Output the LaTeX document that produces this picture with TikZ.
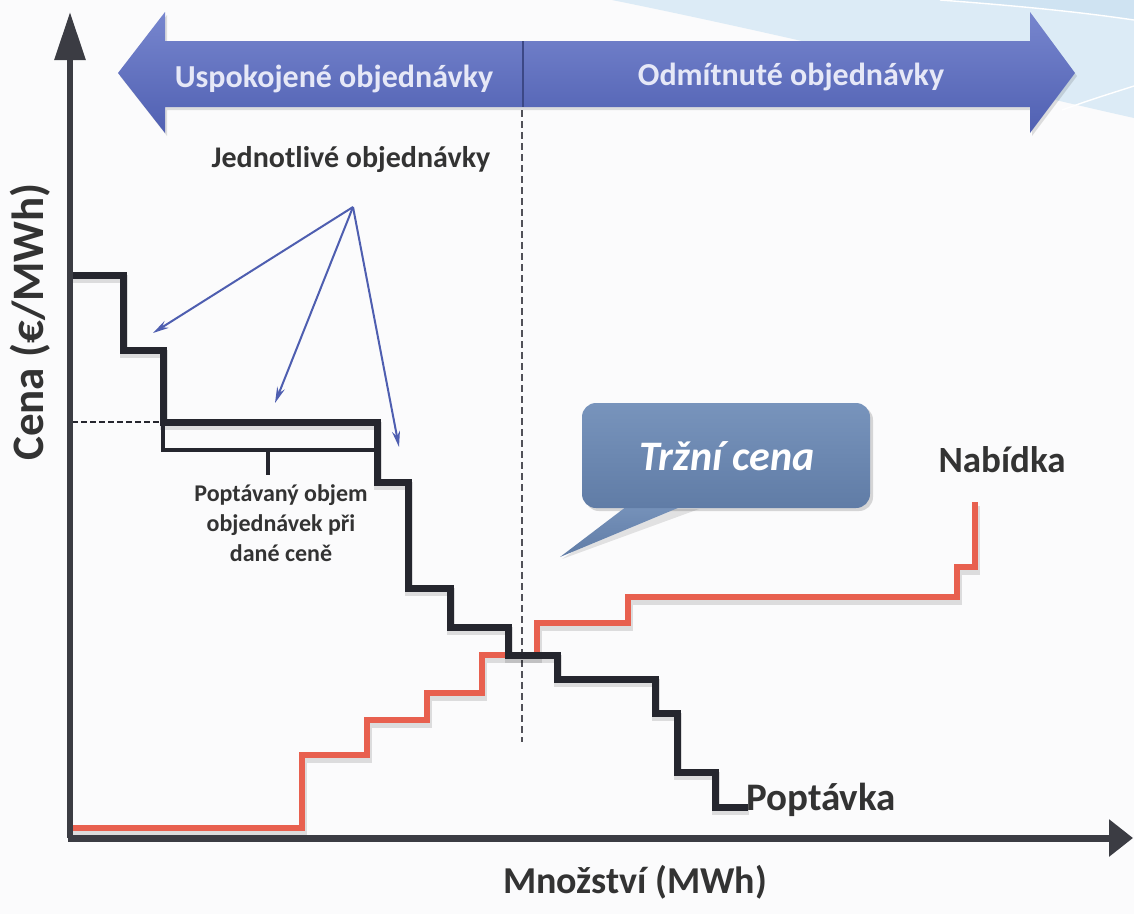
\documentclass[tikz,border=0pt]{standalone}
\usepackage{fontspec}
\setmainfont{Carlito}
\usetikzlibrary{arrows.meta,calc}

\definecolor{bg}{HTML}{FBFBFC}
\definecolor{swoosh}{HTML}{DCEBF6}
\definecolor{swooshdark}{HTML}{CFE3F2}
\definecolor{bandtop}{HTML}{7786CE}
\definecolor{bandbot}{HTML}{5060B2}
\definecolor{bandtext}{HTML}{E6E8F7}
\definecolor{demand}{HTML}{25262E}
\definecolor{supply}{HTML}{E8604F}
\definecolor{pointer}{HTML}{4E5EB0}
\definecolor{calltop}{HTML}{7894BC}
\definecolor{callbot}{HTML}{607CA6}
\definecolor{ink}{HTML}{333333}

\tikzset{
  axisline/.style={line width=6, draw=demand!90!white},
  demandline/.style={line width=7, draw=demand, line join=miter},
  supplyline/.style={line width=6, draw=supply, line join=miter},
  shadowline/.style={line width=8, draw=black, opacity=0.12, line join=miter},
  pointerarrow/.style={draw=pointer, line width=2, -{Stealth[length=16pt,width=8pt]}},
  bandlabel/.style={text=bandtext, font=\bfseries\fontsize{32}{36}\selectfont, inner sep=0},
  plainlabel/.style={text=ink, font=\bfseries\fontsize{36}{40}\selectfont, inner sep=0},
  smalllabel/.style={text=ink, font=\bfseries\fontsize{24}{30}\selectfont, inner sep=0, align=center},
}

\begin{document}
\begin{tikzpicture}[x=1pt,y=-1pt]
% page background
\fill[bg] (0,0) rectangle (1134,914);
\useasboundingbox (0,0) rectangle (1134,914);

% theme swoosh in the upper right corner
\fill[swoosh] (612,0) .. controls (800,38) and (1000,88) .. (1134,118) -- (1134,0) -- cycle;
\fill[swooshdark] (940,0) .. controls (1020,6) and (1080,12) .. (1134,20) -- (1134,0) -- cycle;
\draw[white, line width=1.4] (940,0) .. controls (1020,6) and (1080,12) .. (1134,20);
\draw[white, line width=1.4] (1062,110) .. controls (1090,100) .. (1134,86);

% double arrow band with the two order groups
\fill[black, opacity=0.12] ($(118,73)+(2,3)$) -- ++(47,-61) -- ++(0,29) -- ++(865,0) -- ++(0,-29)
  -- ++(45,61) -- ++(-45,60) -- ++(0,-26) -- ++(-865,0) -- ++(0,26) -- cycle;
\shade[top color=bandtop, bottom color=bandbot]
  (118,73) -- (165,12) -- (165,41) -- (1030,41) -- (1030,12) -- (1075,73)
  -- (1030,133) -- (1030,107) -- (165,107) -- (165,133) -- cycle;
\draw[bandbot!75!black, line width=1.2] (523,41) -- (523,107);
\node[bandlabel] (satisfied) at (334,79) {Uspokojené objednávky};
\node[bandlabel] (rejected) at (791,77) {Odmítnuté objednávky};

% market clearing quantity
\draw[demand!80!white, line width=1.5, dash pattern=on 7pt off 4pt] (522,110) -- (522,742);

% price level of the highlighted order block
\draw[demand, line width=2.5, dash pattern=on 6pt off 3pt] (72,422) -- (163,422);

% supply curve
\draw[shadowline] ($(72,828)+(1,4)$) -- ++(230,0) -- ++(0,-73) -- ++(65,0) -- ++(0,-35)
  -- ++(60,0) -- ++(0,-27) -- ++(55,0) -- ++(0,-38) -- ++(55,0) -- ++(0,-32)
  -- ++(91,0) -- ++(0,-26) -- ++(329,0) -- ++(0,-30) -- ++(18,0) -- ++(0,-65);
\draw[supplyline] (72,828) -- (302,828) -- (302,755) -- (367,755) -- (367,720)
  -- (427,720) -- (427,693) -- (482,693) -- (482,655) -- (537,655) -- (537,623)
  -- (628,623) -- (628,597) -- (957,597) -- (957,567) -- (975,567) -- (975,502);

% demand curve
\draw[shadowline] ($(72,275)+(1,4)$) -- ++(51,0) -- ++(0,75) -- ++(40,0) -- ++(0,72)
  -- ++(214,0) -- ++(0,60) -- ++(31,0) -- ++(0,106) -- ++(42,0) -- ++(0,39)
  -- ++(58,0) -- ++(0,28) -- ++(49,0) -- ++(0,24) -- ++(98,0) -- ++(0,34)
  -- ++(22,0) -- ++(0,59) -- ++(38,0) -- ++(0,35) -- ++(33,0);
\draw[demandline] (72,275) -- (123,275) -- (123,350) -- (163,350) -- (163,422)
  -- (377,422) -- (377,482) -- (408,482) -- (408,588) -- (450,588) -- (450,627)
  -- (508,627) -- (508,655) -- (557,655) -- (557,679) -- (655,679) -- (655,713)
  -- (677,713) -- (677,772) -- (715,772) -- (715,807) -- (748,807);

% bracket marking the ordered volume at that price
\draw[demand, line width=4] (163,422) -- (163,450) -- (377,450);
\draw[demand, line width=4] (268,450) -- (268,475);

% axes
\draw[axisline, -{Triangle[length=48pt,width=30pt]}] (70,838) -- (70,12);
\draw[axisline, line width=7, -{Triangle[length=24pt,width=36pt]}] (68,838) -- (1133,838);

% callout with the market price
\fill[black, opacity=0.15, rounded corners=14] (585,406) rectangle (873,511);
\fill[black, opacity=0.10] (637,509) -- (562,559) -- (699,509) -- cycle;
\shade[top color=calltop, bottom color=callbot] (635,500) -- (560,557) -- (697,500) -- cycle;
\shade[top color=calltop, bottom color=callbot, rounded corners=14] (582,403) rectangle (870,508);
\node[text=white, font=\bfseries\itshape\fontsize{42}{46}\selectfont, inner sep=0] (price) at (727,456) {Tržní cena};

% labels
\node[plainlabel, font=\bfseries\fontsize{30}{36}\selectfont] (orders) at (351,160) {Jednotlivé objednávky};
\coordinate (apex) at (353,207);
\coordinate (tipA) at (153,333);
\coordinate (tipB) at (275,403);
\coordinate (tipC) at (399,447);
\draw[pointerarrow] (apex) -- (tipA);
\draw[pointerarrow] (apex) -- (tipB);
\draw[pointerarrow] (apex) -- (tipC);

\node[smalllabel] (volume) at (281,523) {Poptávaný objem\\objednávek při\\dané ceně};
\node[plainlabel, font=\bfseries\fontsize{37}{40}\selectfont] (supplylabel) at (1002,460) {Nabídka};
\node[plainlabel, font=\bfseries\fontsize{39}{44}\selectfont] (demandlabel) at (821,800) {Poptávka};
\node[plainlabel, font=\bfseries\fontsize{38}{44}\selectfont] (xlabel) at (635,882) {Množství (MWh)};
\node[plainlabel, font=\bfseries\fontsize{45}{50}\selectfont, rotate=90] (ylabel) at (30,322) {Cena (€/MWh)};
\end{tikzpicture}
\end{document}
